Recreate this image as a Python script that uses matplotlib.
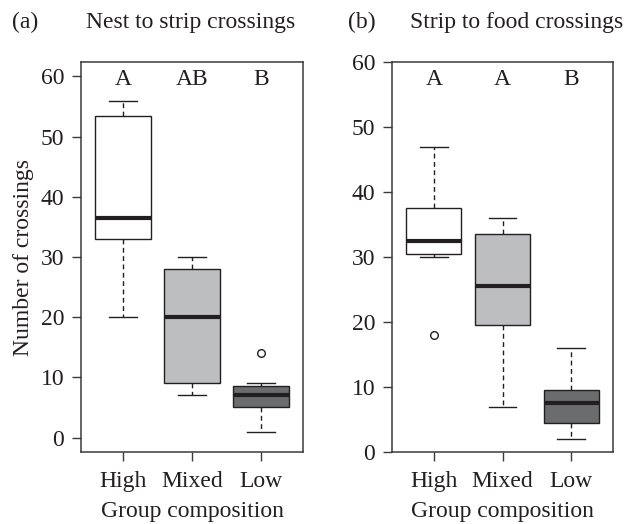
import matplotlib
matplotlib.use("Agg")
import matplotlib.pyplot as plt
from matplotlib.transforms import blended_transform_factory

plt.rcParams["font.family"] = ["Liberation Serif", "DejaVu Serif"]

groups = ["High", "Mixed", "Low"]
fills = ["#ffffff", "#bdbec0", "#6b6c6e"]

# panel (a): nest to strip crossings
a_whislo = [20, 7, 1]
a_q1 = [33, 9, 5]
a_med = [36.5, 20, 7]
a_q3 = [53.5, 28, 8.5]
a_whishi = [56, 30, 9]
a_fliers = [[], [], [14]]
a_letters = ["A", "AB", "B"]

# panel (b): strip to food crossings
b_whislo = [30, 7, 2]
b_q1 = [30.5, 19.5, 4.5]
b_med = [32.5, 25.5, 7.5]
b_q3 = [37.5, 33.5, 9.5]
b_whishi = [47, 36, 16]
b_fliers = [[18], [], []]
b_letters = ["A", "A", "B"]

INK = "#231f20"
FS = 17


def draw(ax, lo, q1, med, q3, hi, fl, letters, ylim):
    stats = []
    for i in range(len(groups)):
        stats.append(dict(whislo=lo[i], q1=q1[i], med=med[i], q3=q3[i],
                          whishi=hi[i], fliers=fl[i], label=groups[i]))
    bp = ax.bxp(stats, positions=[1, 2, 3], widths=0.8, patch_artist=True,
                showfliers=True,
                boxprops=dict(edgecolor=INK, linewidth=1.0),
                medianprops=dict(color=INK, linewidth=3.0, solid_capstyle="butt"),
                whiskerprops=dict(color=INK, linewidth=1.0,
                                  linestyle=(0, (3.5, 2.5))),
                capprops=dict(color=INK, linewidth=1.0),
                capwidths=0.4,
                flierprops=dict(marker="o", markersize=5.5, markerfacecolor="none",
                                markeredgecolor=INK, markeredgewidth=1.0))
    for patch, c in zip(bp["boxes"], fills):
        patch.set_facecolor(c)

    ax.set_xlim(0.39, 3.61)
    ax.set_ylim(*ylim)
    ax.set_yticks([0, 10, 20, 30, 40, 50, 60])
    ax.set_xticks([1, 2, 3])
    ax.set_xticklabels(groups)
    ax.tick_params(direction="out", length=6.5, width=1.0, color="#3a3a3a",
                   labelsize=FS, labelcolor=INK)
    ax.tick_params(axis="y", pad=5.5)
    ax.tick_params(axis="x", pad=7)
    for s in ax.spines.values():
        s.set_color("#3a3a3a")
        s.set_linewidth(1.1)
    ax.set_xlabel("Group composition", fontsize=FS, color=INK, labelpad=7)

    tr = blended_transform_factory(ax.transData, ax.transAxes)
    for i, t in enumerate(letters):
        ax.text(i + 1, 0.941, t, transform=tr, ha="center", va="baseline",
                fontsize=FS, color=INK)


fig = plt.figure(figsize=(6.26, 5.24), dpi=100)
ax1 = fig.add_axes([81 / 626, 72 / 524, 222 / 626, 390 / 524])
ax2 = fig.add_axes([392 / 626, 72 / 524, 221 / 626, 390 / 524])

draw(ax1, a_whislo, a_q1, a_med, a_q3, a_whishi, a_fliers, a_letters,
     (-2.4, 62.4))
draw(ax2, b_whislo, b_q1, b_med, b_q3, b_whishi, b_fliers, b_letters,
     (0, 60))

ax1.set_ylabel("Number of crossings", fontsize=FS, color=INK)
ax1.yaxis.set_label_coords(-0.21, 0.5)

ty = 1 - 28 / 524
fig.text(25 / 626, ty, "(a)", ha="center", va="baseline", fontsize=FS, color=INK)
fig.text(191 / 626, ty, "Nest to strip crossings", ha="center",
         va="baseline", fontsize=FS, color=INK)
fig.text(362 / 626, ty, "(b)", ha="center", va="baseline", fontsize=FS, color=INK)
fig.text(517 / 626, ty, "Strip to food crossings", ha="center",
         va="baseline", fontsize=FS, color=INK)

fig.savefig("out.png", dpi=100)
